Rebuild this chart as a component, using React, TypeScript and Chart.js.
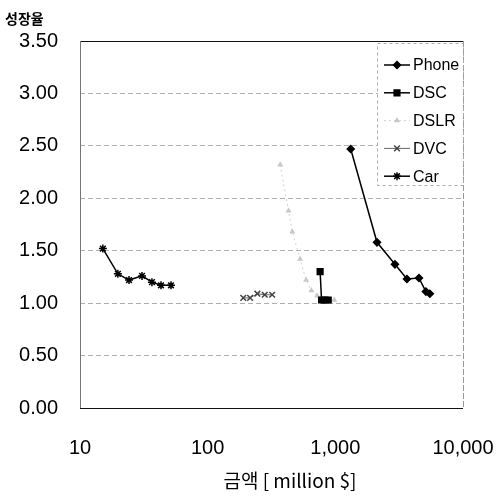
import React, { useEffect, useRef } from "react";
import { Chart, registerables } from "chart.js";
import { drawPoint } from "chart.js/helpers";

Chart.register(...registerables);

const seriesNames = ["Phone", "DSC", "DSLR", "DVC", "Car"];

const phoneX = [1320, 2120, 2930, 3640, 4520, 5120, 5500];
const phoneY = [2.47, 1.58, 1.37, 1.23, 1.24, 1.11, 1.09];

const dscX = [760, 780, 830, 880];
const dscY = [1.3, 1.03, 1.03, 1.03];

const dslrX = [370, 430, 460, 530, 590, 650, 720, 980];
const dslrY = [2.32, 1.88, 1.68, 1.42, 1.22, 1.12, 1.07, 1.03];

const dvcX = [190, 215, 245, 280, 320];
const dvcY = [1.05, 1.05, 1.09, 1.08, 1.08];

const carX = [15.1, 19.8, 24.2, 30.6, 36.6, 43.1, 51.6];
const carY = [1.52, 1.28, 1.22, 1.26, 1.2, 1.17, 1.17];

const xTicks = [10, 100, 1000, 10000];
const yTicks = [0, 0.5, 1, 1.5, 2, 2.5, 3, 3.5];

const yTitle = "성장율";
const xTitle = "금액 [ million $]";

const FONT = "'Liberation Sans', Arial, sans-serif";

const styles = [
  { color: "#000", lineColor: "#000", point: "rectRot", radius: 3.5, dash: [] as number[], width: 1.5 },
  { color: "#000", lineColor: "#000", point: "rect", radius: 4, dash: [] as number[], width: 1.5 },
  { color: "#c8c8c8", lineColor: "#d0d0d0", point: "triangle", radius: 2, dash: [2, 3], width: 1 },
  { color: "#444", lineColor: "#666", point: "crossRot", radius: 4, dash: [] as number[], width: 1 },
  { color: "#000", lineColor: "#000", point: "star", radius: 4, dash: [] as number[], width: 1.5 },
];

const toPts = (xs: number[], ys: number[]) => xs.map((x, i) => ({ x, y: ys[i] }));

export default function App() {
  const ref = useRef<HTMLCanvasElement>(null);
  useEffect(() => {
    if (!ref.current) return;
    const seriesData = [
      toPts(phoneX, phoneY),
      toPts(dscX, dscY),
      toPts(dslrX, dslrY),
      toPts(dvcX, dvcY),
      toPts(carX, carY),
    ];
    const overlay = {
      id: "overlay",
      afterDraw(chart: any) {
        const ctx = chart.ctx;
        const a = chart.chartArea;
        ctx.save();
        // frame
        ctx.lineWidth = 1;
        ctx.setLineDash([]);
        ctx.strokeStyle = "#111";
        ctx.beginPath();
        ctx.moveTo(a.left, a.top + 0.5);
        ctx.lineTo(a.right, a.top + 0.5);
        ctx.moveTo(a.left, a.bottom + 0.5);
        ctx.lineTo(a.right, a.bottom + 0.5);
        ctx.stroke();
        ctx.strokeStyle = "#777";
        ctx.beginPath();
        ctx.moveTo(a.left + 0.5, a.top);
        ctx.lineTo(a.left + 0.5, a.bottom);
        ctx.stroke();
        ctx.setLineDash([6, 2]);
        ctx.strokeStyle = "#999";
        ctx.beginPath();
        ctx.moveTo(a.right + 0.5, a.top);
        ctx.lineTo(a.right + 0.5, a.bottom);
        ctx.stroke();

        // legend
        const lx = a.right - 86;
        const ly = a.top + 2;
        ctx.setLineDash([3, 3]);
        ctx.strokeStyle = "#aaa";
        ctx.strokeRect(lx + 0.5, ly + 0.5, 86, 142);
        ctx.fillStyle = "#fff";
        ctx.fillRect(lx + 1, ly + 1, 84, 140);
        seriesNames.forEach((name, i) => {
          const s = styles[i];
          const y = ly + 22 + i * 27.8;
          ctx.setLineDash(s.dash);
          ctx.strokeStyle = s.lineColor;
          ctx.lineWidth = s.width;
          ctx.beginPath();
          ctx.moveTo(lx + 7, y);
          ctx.lineTo(lx + 33, y);
          ctx.stroke();
          ctx.setLineDash([]);
          ctx.fillStyle = s.color;
          ctx.strokeStyle = s.color;
          ctx.lineWidth = 1.5;
          drawPoint(ctx, { pointStyle: s.point, rotation: 0, radius: s.radius, borderWidth: 1.5 } as any, lx + 20, y);
          ctx.fillStyle = "#000";
          ctx.font = `16px ${FONT}`;
          ctx.textAlign = "left";
          ctx.textBaseline = "middle";
          ctx.fillText(name, lx + 36, y + 1);
        });

        // titles
        ctx.fillStyle = "#000";
        ctx.font = `bold 14px 'Noto Sans CJK KR', sans-serif`;
        ctx.textAlign = "left";
        ctx.textBaseline = "middle";
        ctx.fillText(yTitle, 5, 19);
        ctx.font = `19px 'Noto Sans CJK KR', ${FONT}`;
        ctx.textAlign = "center";
        ctx.fillText(xTitle, 290, 481);
        ctx.restore();
      },
    };
    const chart = new Chart(ref.current, {
      type: "line",
      data: {
        datasets: seriesNames.map((name, i) => ({
          label: name,
          data: seriesData[i],
          borderColor: styles[i].lineColor,
          backgroundColor: styles[i].color,
          pointBorderColor: styles[i].color,
          pointBackgroundColor: styles[i].color,
          pointStyle: styles[i].point as any,
          pointRadius: styles[i].radius,
          pointBorderWidth: 1.5,
          borderWidth: styles[i].width,
          borderDash: styles[i].dash,
          tension: 0,
          fill: false,
        })),
      },
      options: {
        animation: false,
        responsive: false,
        events: [],
        layout: { padding: { left: 0, right: 35, top: 41, bottom: 0 } },
        plugins: { legend: { display: false }, tooltip: { enabled: false } },
        scales: {
          x: {
            type: "logarithmic",
            min: 10,
            max: 10000,
            afterBuildTicks: (s: any) => {
              s.ticks = xTicks.map((v) => ({ value: v, major: true }));
            },
            afterFit: (s: any) => {
              s.height = 91;
              s.paddingLeft = 0;
              s.paddingRight = 0;
            },
            grid: { display: false, drawTicks: false },
            border: { display: false },
            ticks: {
              autoSkip: false,
              maxRotation: 0,
              padding: 28,
              color: "#000",
              font: { family: FONT, size: 20 },
              callback: (v: any) => Number(v).toLocaleString("en-US"),
            },
          },
          y: {
            min: 0,
            max: 3.5,
            afterBuildTicks: (s: any) => {
              s.ticks = yTicks.map((v) => ({ value: v }));
            },
            afterFit: (s: any) => {
              s.width = 80;
              s.paddingTop = 0;
              s.paddingBottom = 0;
            },
            grid: { color: "#b0b0b0", drawTicks: false, lineWidth: 1 },
            border: { display: false, dash: [5, 3] },
            ticks: {
              padding: 22,
              color: "#000",
              font: { family: FONT, size: 20 },
              callback: (v: any) => Number(v).toFixed(2),
            },
          },
        },
      },
      plugins: [overlay],
    });
    return () => chart.destroy();
  }, []);
  return (
    <div style={{ position: "absolute", left: 0, top: 0, width: 498, height: 499, background: "#fff" }}>
      <canvas ref={ref} width={498} height={499} />
    </div>
  );
}
